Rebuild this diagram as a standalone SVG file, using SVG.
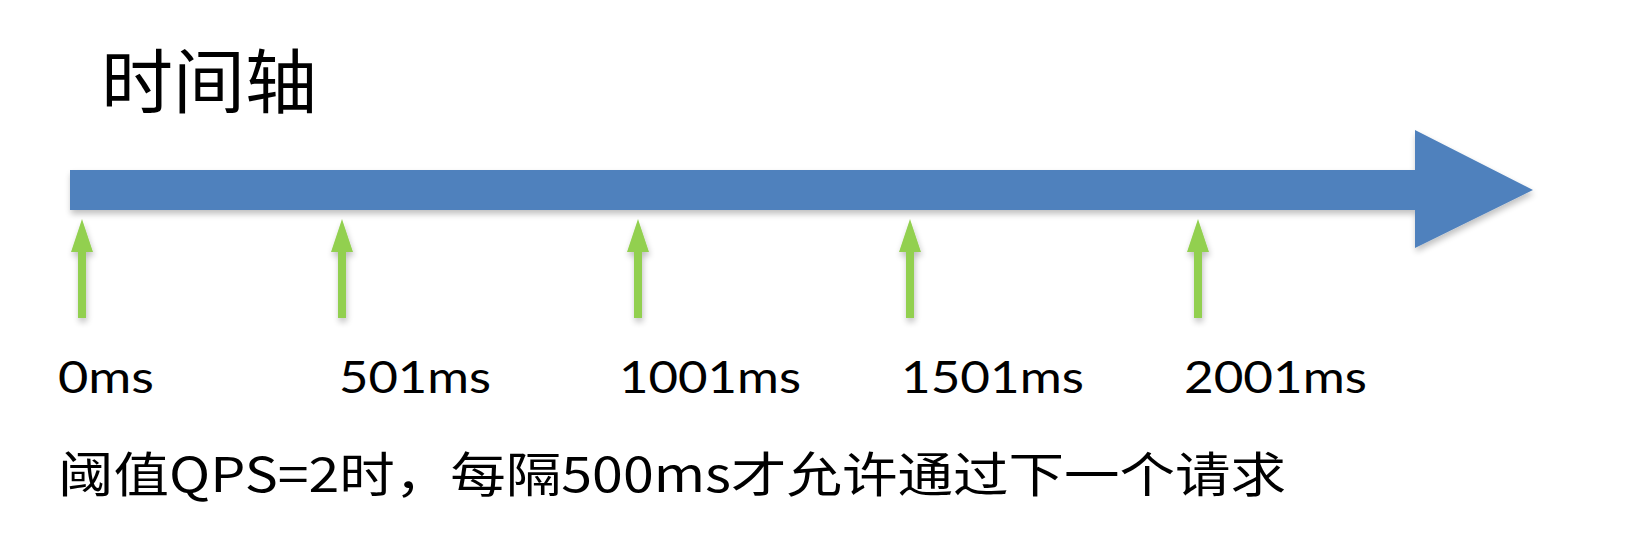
<svg xmlns="http://www.w3.org/2000/svg" width="1632" height="558" viewBox="0 0 1632 558">
<defs>
<filter id="sh" x="-10%" y="-30%" width="120%" height="180%">
<feGaussianBlur in="SourceAlpha" stdDeviation="3"/>
<feOffset dx="1" dy="4" result="b"/>
<feComponentTransfer><feFuncA type="linear" slope="0.25"/></feComponentTransfer>
<feMerge><feMergeNode/><feMergeNode in="SourceGraphic"/></feMerge>
</filter>
<path id="tick" d="M0,0 L11,33 L4,33 L4,99 L-4,99 L-4,33 L-11,33 Z"/>
</defs>
<style>
.lbl{font-family:Lato,"Liberation Sans","Noto Sans CJK SC",sans-serif;font-size:44px;fill:#000}
.cjk{font-family:"Noto Sans CJK SC",sans-serif;fill:#000}
.tick{fill:#92D050}
</style>
<rect width="1632" height="558" fill="#fff"/>
<g id="title"><text class="cjk" x="101" y="108" font-size="70" textLength="216" lengthAdjust="spacingAndGlyphs">时间轴</text></g>
<g id="timeline" filter="url(#sh)">
<path d="M70,170 L1415,170 L1415,130 L1533,190 L1415,248 L1415,210 L70,210 Z" fill="#4F81BD"/>
</g>
<g id="connectors" filter="url(#sh)">
<use href="#tick" class="tick" x="82" y="219"/>
<use href="#tick" class="tick" x="342" y="219"/>
<use href="#tick" class="tick" x="638" y="219"/>
<use href="#tick" class="tick" x="910" y="219"/>
<use href="#tick" class="tick" x="1198" y="219"/>
</g>
<g id="label-0"><text class="lbl" x="58" y="393" textLength="96" lengthAdjust="spacingAndGlyphs">0ms</text></g>
<g id="label-501"><text class="lbl" x="339" y="393" textLength="152" lengthAdjust="spacingAndGlyphs">501ms</text></g>
<g id="label-1001"><text class="lbl" x="619" y="393" textLength="182" lengthAdjust="spacingAndGlyphs">1001ms</text></g>
<g id="label-1501"><text class="lbl" x="901" y="393" textLength="183" lengthAdjust="spacingAndGlyphs">1501ms</text></g>
<g id="label-2001"><text class="lbl" x="1184" y="393" textLength="183" lengthAdjust="spacingAndGlyphs">2001ms</text></g>
<g id="caption"><text class="cjk" x="58" y="492" font-size="48" textLength="1228" lengthAdjust="spacingAndGlyphs">阈值QPS=2时，每隔500ms才允许通过下一个请求</text></g>
</svg>
